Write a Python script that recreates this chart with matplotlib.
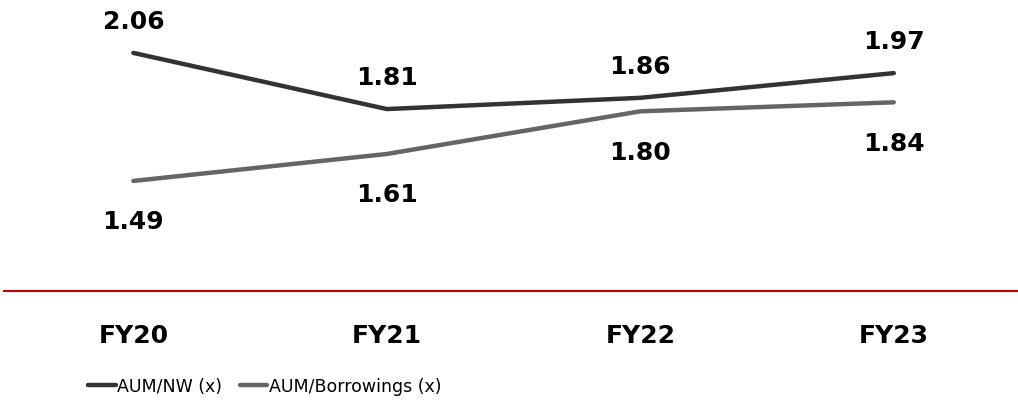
import matplotlib
matplotlib.use("Agg")
import matplotlib.pyplot as plt

# --- data -------------------------------------------------------------------
years = ["FY20", "FY21", "FY22", "FY23"]
aum_nw = [2.06, 1.81, 1.86, 1.97]
aum_borrow = [1.49, 1.61, 1.80, 1.84]

C_NW = "#333333"
C_BOR = "#656565"
C_AXIS = "#C00000"

fig = plt.figure(figsize=(10.18, 4.14), dpi=100)
ax = fig.add_axes([0.004, 0.2947, 0.996, 0.7053])

x = list(range(len(years)))
ax.plot(x, aum_nw, color=C_NW, linewidth=3.2, solid_capstyle="round",
        solid_joinstyle="round", label="AUM/NW (x)")
ax.plot(x, aum_borrow, color=C_BOR, linewidth=3.2, solid_capstyle="round",
        solid_joinstyle="round", label="AUM/Borrowings (x)")

# value labels: dark series above, grey series below
for xi, v in zip(x, aum_nw):
    ax.annotate(f"{v:.2f}", (xi, v), xytext=(0, 23), textcoords="offset points",
                ha="center", va="center", fontsize=18, fontweight="bold", color="black")
for xi, v in zip(x, aum_borrow):
    ax.annotate(f"{v:.2f}", (xi, v), xytext=(0, -29), textcoords="offset points",
                ha="center", va="center", fontsize=18, fontweight="bold", color="black")

ax.set_xlim(-0.51, 3.49)
ax.set_ylim(1.0, 2.3)
ax.set_xticks(x)
ax.set_xticklabels(years, fontsize=18, fontweight="bold", color="black")
ax.set_yticks([])
ax.tick_params(axis="x", length=0, pad=23)
for side in ("top", "left", "right"):
    ax.spines[side].set_visible(False)
ax.spines["bottom"].set_color(C_AXIS)
ax.spines["bottom"].set_linewidth(1.5)

fig.legend(loc="center", bbox_to_anchor=(0.26, 0.065), ncol=2, frameon=False,
           handlelength=1.6, handletextpad=0.1, columnspacing=1.0,
           prop={"size": 12.5})

fig.savefig("out.png", dpi=100)
